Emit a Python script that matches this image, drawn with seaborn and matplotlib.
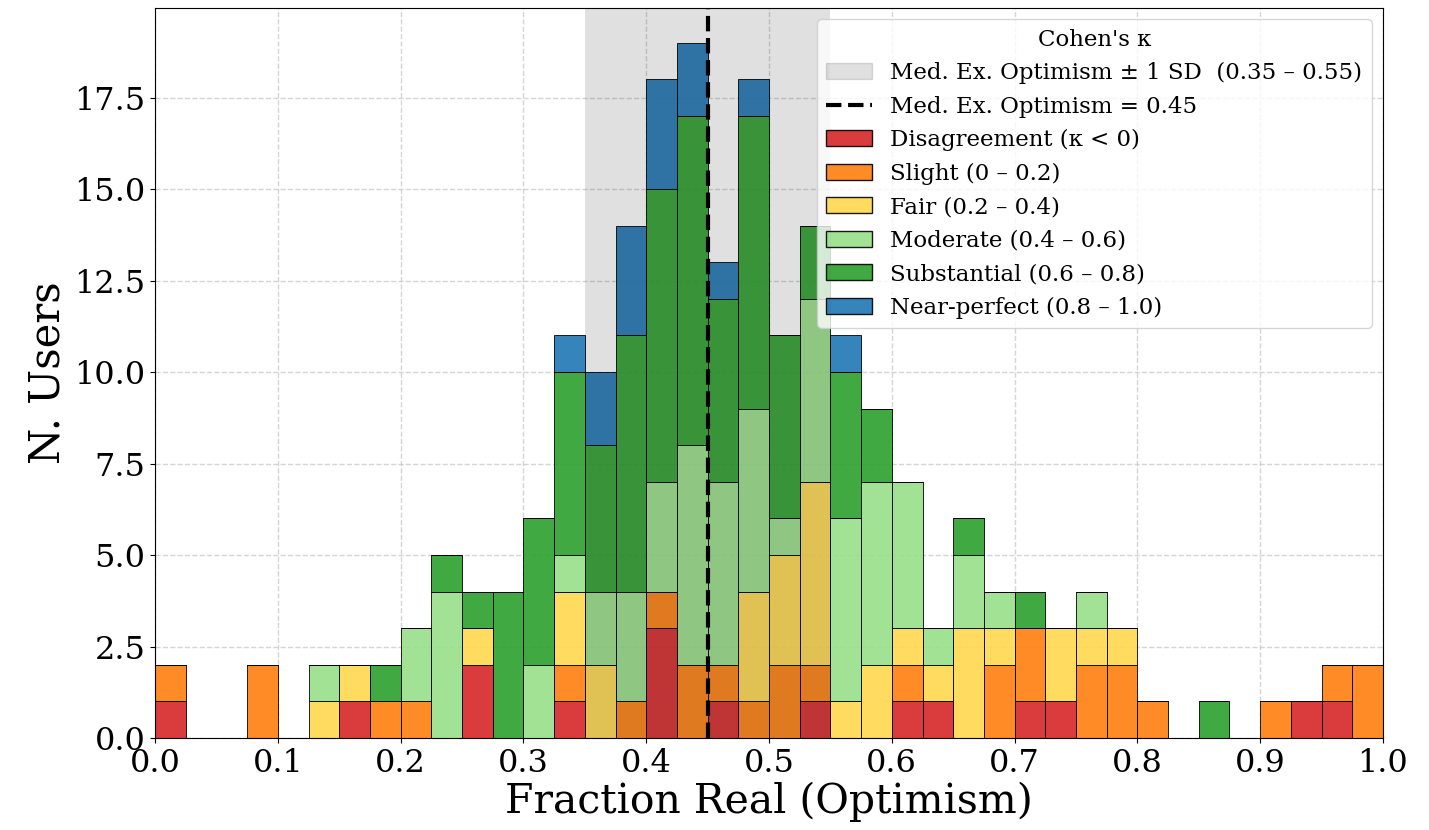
import numpy as np
import pandas as pd
import matplotlib
matplotlib.use("Agg")
import matplotlib.pyplot as plt
import seaborn as sns
from matplotlib.patches import Patch
from matplotlib.lines import Line2D

# ==========================================================
# Data: users per 0.025-wide bin of Fraction Real, by Cohen's kappa class
# ==========================================================

n_bins = 40
centers = (np.arange(n_bins) + 0.5) / n_bins

categories = ["Disagreement (κ < 0)", "Slight (0 – 0.2)", "Fair (0.2 – 0.4)",
              "Moderate (0.4 – 0.6)", "Substantial (0.6 – 0.8)", "Near-perfect (0.8 – 1.0)"]
colors = ["#d62728", "#ff7f0e", "#ffd94f", "#98df8a", "#2ca02c", "#1f77b4"]

# counts per bin (40 bins, 0.0 -> 1.0)
disagreement = [1, 0, 0, 0, 0, 0, 1, 0, 0, 0, 2, 0, 0, 1, 0, 0, 3, 0, 1, 0,
                0, 1, 0, 0, 1, 1, 0, 0, 1, 1, 0, 0, 0, 0, 0, 0, 0, 1, 1, 0]
slight = [1, 0, 0, 2, 0, 0, 0, 1, 1, 0, 0, 0, 0, 1, 0, 1, 1, 2, 1, 1,
          2, 1, 0, 0, 1, 0, 0, 2, 2, 0, 2, 2, 1, 0, 0, 0, 1, 0, 1, 2]
fair = [0, 0, 0, 0, 0, 1, 1, 0, 0, 0, 1, 0, 0, 2, 2, 0, 0, 0, 0, 3,
        3, 5, 1, 2, 1, 1, 3, 1, 0, 2, 1, 1, 0, 0, 0, 0, 0, 0, 0, 0]
moderate = [0, 0, 0, 0, 0, 1, 0, 0, 2, 4, 0, 0, 2, 1, 2, 3, 3, 6, 5, 5,
            1, 5, 5, 5, 4, 1, 2, 1, 0, 0, 1, 0, 0, 0, 0, 0, 0, 0, 0, 0]
substantial = [0, 0, 0, 0, 0, 0, 0, 1, 0, 1, 1, 4, 4, 5, 4, 7, 8, 9, 5, 8,
               5, 2, 4, 2, 0, 0, 1, 0, 1, 0, 0, 0, 0, 0, 1, 0, 0, 0, 0, 0]
near_perfect = [0, 0, 0, 0, 0, 0, 0, 0, 0, 0, 0, 0, 0, 1, 2, 3, 3, 2, 1, 1,
                0, 0, 1, 0, 0, 0, 0, 0, 0, 0, 0, 0, 0, 0, 0, 0, 0, 0, 0, 0]

med_opt = 0.45
sd_lo, sd_hi = 0.35, 0.55

# long table for seaborn (bin centre + weight)
series = [disagreement, slight, fair, moderate, substantial, near_perfect]
df = pd.concat([pd.DataFrame({"frac": centers, "n": s, "kappa": c})
                for c, s in zip(categories, series)], ignore_index=True)

# ==========================================================
# Plot
# ==========================================================

sns.set_style("ticks")
plt.rcParams["font.family"] = ["DejaVu Serif"]
plt.rcParams["text.color"] = "black"
plt.rcParams["axes.labelcolor"] = "black"
plt.rcParams["xtick.color"] = "black"
plt.rcParams["ytick.color"] = "black"

fig = plt.figure(figsize=(14.29, 8.30), dpi=100)
ax = fig.add_axes([0.1085, 0.1108, 0.8593, 0.8796])

palette = dict(zip(categories, colors))
# seaborn stacks first hue level on top -> reverse so red sits at the bottom
sns.histplot(data=df, x="frac", weights="n", hue="kappa", hue_order=categories[::-1],
             multiple="stack", bins=n_bins, binrange=(0, 1), palette=palette, alpha=0.9,
             edgecolor="black", linewidth=0.6, legend=False, ax=ax)

ax.axvspan(sd_lo, sd_hi, color="black", alpha=0.12, lw=0, zorder=3)
ax.axvline(med_opt, color="black", linestyle="--", linewidth=3, zorder=4)

ax.set_xlim(0, 1)
ax.set_xticks(np.arange(0, 1.01, 0.1))
ax.set_yticks(np.arange(0, 18, 2.5))
ax.grid(True, linestyle="--", color="#c4c4c4", alpha=0.7, linewidth=1)
ax.set_axisbelow(True)
ax.tick_params(labelsize=23)
ax.set_xlabel("Fraction Real (Optimism)", fontsize=29.5, labelpad=2)
ax.set_ylabel("N. Users", fontsize=30)
for s in ax.spines.values():
    s.set_visible(True)
    s.set_color("black")

handles = [Patch(facecolor="black", alpha=0.12, edgecolor="black",
                 label=f"Med. Ex. Optimism ± 1 SD  ({sd_lo:.2f} – {sd_hi:.2f})"),
           Line2D([0], [0], color="black", linestyle="--", linewidth=3,
                  label=f"Med. Ex. Optimism = {med_opt:.2f}")]
handles += [Patch(facecolor=c, alpha=0.9, edgecolor="black", label=l)
            for l, c in zip(categories, colors)]
ax.legend(handles=handles, title="Cohen's κ", loc="upper right", fontsize=16.5,
          title_fontsize=16.5, framealpha=0.8)

fig.savefig("out.png", dpi=100)
